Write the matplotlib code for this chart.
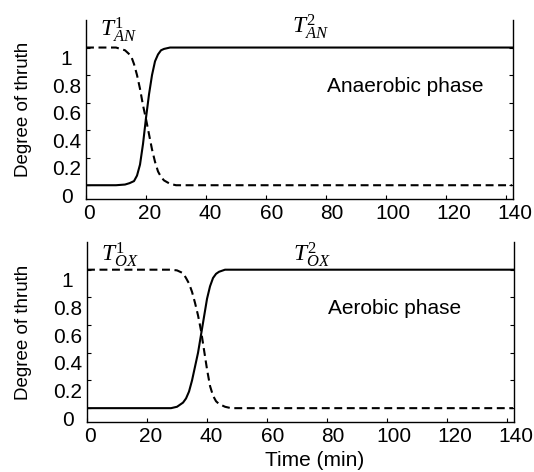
import matplotlib
matplotlib.use('Agg')
import matplotlib.pyplot as plt
from matplotlib.transforms import ScaledTranslation

plt.rcParams['font.family'] = ['Liberation Sans', 'DejaVu Sans']
plt.rcParams['mathtext.fontset'] = 'custom'
plt.rcParams['mathtext.rm'] = 'Liberation Serif'
plt.rcParams['mathtext.it'] = 'Liberation Serif:italic'

# anaerobic phase
t_an_rise = [0, 10, 13, 14.5, 16, 17, 18, 19, 20, 21, 22, 23, 24, 25, 26, 28, 30, 142]
an_rise = [0, 0, 0.005, 0.015, 0.03, 0.07, 0.15, 0.3, 0.49, 0.66, 0.8, 0.9, 0.95, 0.98, 0.99, 1, 1, 1]
t_an_fall = [0, 10, 13, 15, 16, 17, 18, 19, 20, 21, 22, 23, 24, 25, 26, 28, 30, 142]
an_fall = [1, 1, 0.98, 0.94, 0.88, 0.8, 0.7, 0.58, 0.48, 0.37, 0.26, 0.17, 0.1, 0.06, 0.035, 0.01, 0, 0]

# aerobic phase
t_ox_rise = [0, 28, 30, 32, 33, 34, 35, 36, 37, 38, 39, 40, 41, 42, 43, 44, 46, 142]
ox_rise = [0, 0, 0.01, 0.04, 0.07, 0.12, 0.2, 0.3, 0.4, 0.53, 0.66, 0.79, 0.88, 0.94, 0.97, 0.985, 1, 1]
t_ox_fall = [0, 28, 30, 32, 33, 34, 35, 36, 37, 38, 39, 40, 41, 42, 43, 44, 46, 48, 142]
ox_fall = [1, 1, 0.995, 0.975, 0.94, 0.9, 0.84, 0.76, 0.67, 0.56, 0.42, 0.28, 0.16, 0.09, 0.05, 0.03, 0.01, 0, 0]

xticks = [0, 20, 40, 60, 80, 100, 120, 140]
yticks = [0, 0.2, 0.4, 0.6, 0.8, 1]
yticklabels = ['0', '0.2', '0.4', '0.6', '0.8', '1']

panels = [
    (t_an_rise, an_rise, t_an_fall, an_fall, r'$T^{\mathit{1}}_{AN}$', r'$T^{2}_{AN}$', 'Anaerobic phase', 1.087, 1.107),
    (t_ox_rise, ox_rise, t_ox_fall, ox_fall, r'$T^{\mathit{1}}_{OX}$', r'$T^{2}_{OX}$', 'Aerobic phase', 1.06, 1.06),
]

W, H = 534, 472
fig = plt.figure(figsize=(W / 100, H / 100), dpi=100)
boxes = [(86, 20, 513, 199), (87, 242, 514, 422)]

for (tr, vr, tf, vf, lab1, lab2, phase, y1, y2), (l, t, r, b) in zip(panels, boxes):
    ax = fig.add_axes([l / W, 1 - b / H, (r - l) / W, (b - t) / H])
    ax.plot(tr, vr, color='black', lw=1.5)
    ax.plot(tf, vf, color='black', lw=1.5, dashes=(3.8, 2.2))
    ax.set_xlim(0, 142.3)
    ax.set_ylim(-0.1, 1.2)
    ax.set_xticks(xticks)
    ax.set_yticks(yticks)
    ax.set_yticklabels(yticklabels)
    ax.spines['top'].set_visible(False)
    for s in ['left', 'bottom', 'right']:
        ax.spines[s].set_linewidth(1.0)
    ax.tick_params(direction='in', length=3, width=0.8, labelsize=15,
                   right=True, top=False)
    ax.tick_params(axis='y', pad=14)
    ax.tick_params(axis='x', pad=3.5)
    for lbl in ax.get_yticklabels():
        lbl.set_horizontalalignment('center')
        lbl.set_transform(lbl.get_transform() + ScaledTranslation(0, -0.10, fig.dpi_scale_trans))
    for lbl, xv in zip(ax.get_xticklabels(), xticks):
        dx = (3 + 0.04 * xv) / 100
        lbl.set_transform(lbl.get_transform() + ScaledTranslation(dx, 0, fig.dpi_scale_trans))
    ax.set_ylabel('Degree of thruth', fontsize=13.5)
    ax.yaxis.set_label_coords((32 - l) / (r - l), 0.5)
    ax.text(4.7, y1, lab1, fontsize=17, ha='left', va='baseline')
    ax.text(68.7, y2, lab2, fontsize=17, ha='left', va='baseline')
    ax.text(80.3, 0.72, phase, fontsize=15, ha='left', va='center')

ax.set_xlabel('Time (min)', fontsize=15, labelpad=4)
ax.xaxis.label.set_transform(ax.xaxis.label.get_transform() + ScaledTranslation(0.14, 0, fig.dpi_scale_trans))

fig.savefig('out.png', dpi=100)
